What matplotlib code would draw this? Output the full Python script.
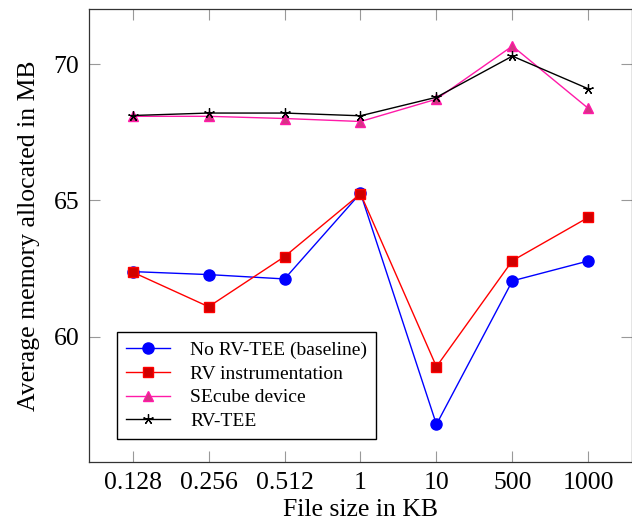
import numpy as np
import matplotlib
matplotlib.use('Agg')
from matplotlib import pyplot as plt

plt.rcParams['font.family'] = ['Liberation Serif', 'DejaVu Serif']
plt.rcParams['mathtext.fontset'] = 'stix'

file_sizes = ['0.128', '0.256', '0.512', '1', '10', '500', '1000']
baseline = [62.39, 62.28, 62.12, 65.27, 56.78, 62.05, 62.78]
rv_instr = [62.37, 61.10, 62.94, 65.25, 58.90, 62.79, 64.38]
secube = [68.09, 68.09, 68.01, 67.90, 68.72, 70.67, 68.38]
rv_tee = [68.12, 68.21, 68.21, 68.11, 68.79, 70.30, 69.10]

x = np.arange(len(file_sizes))

fig = plt.figure(figsize=(6.32, 5.29), dpi=100)
ax = fig.add_axes([89/632, 67/529, 543/632, 453/529])

ax.plot(x, baseline, color='blue', lw=1, marker='o', ms=8,
        mfc='blue', mec='blue', label='No RV-TEE (baseline)')
ax.plot(x, rv_instr, color='red', lw=1, marker='s', ms=7.7,
        mfc='#d00000', mec='red', label='RV instrumentation')
ax.plot(x, secube, color='#ff1aa8', lw=1, marker='^', ms=7.5,
        mfc='#d63384', mec='#ff1aa8', label='SEcube device')
ax.plot(x, rv_tee, color='black', lw=1, marker=(5, 2, 0), ms=7.5,
        mec='black', mew=0.9, label='RV-TEE')

ax.set_xlim(-0.575, 6.575)
ax.set_ylim(55.4, 72.03)
ax.set_xticks(x)
ax.set_xticklabels(file_sizes)
ax.set_yticks([60, 65, 70])
ax.tick_params(direction='in', length=7.7, width=0.8, color='#999999',
               labelsize=18.5, top=True, right=True, pad=7)
for s in ax.spines.values():
    s.set_linewidth(0.9)
    s.set_color('#333333')

ax.set_xlabel('File size in KB', fontsize=18.5, labelpad=4)
ax.set_ylabel('Average memory allocated in MB', fontsize=18.5, labelpad=10)

leg = ax.legend(loc='lower left', bbox_to_anchor=(0.0516, 0.0508),
                borderaxespad=0, fontsize=14, fancybox=False,
                edgecolor='black', framealpha=1, handlelength=2.3,
                labelspacing=0.32, handletextpad=1.0, borderpad=0.45)
leg.get_frame().set_linewidth(1)

fig.savefig('out.png', dpi=100)
